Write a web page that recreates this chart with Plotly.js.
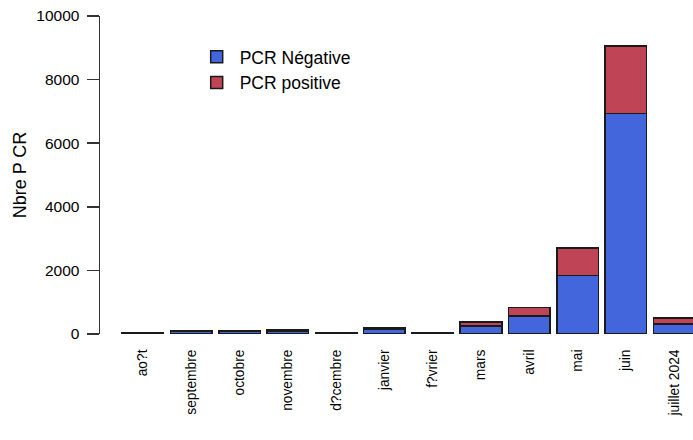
<!DOCTYPE html>
<html>
<head>
<meta charset="utf-8">
<script src="https://cdn.plot.ly/plotly-3.0.1.min.js"></script>
<style>html,body{margin:0;padding:0;background:#fff;}#chart{width:693px;height:440px;}</style>
</head>
<body>
<div id="chart"></div>
<script>
const categories = ['ao?t','septembre','octobre','novembre','d?cembre','janvier','f?vrier','mars','avril','mai','juin','juillet 2024'];
const pcrNegative = [20, 80, 80, 90, 20, 160, 20, 250, 570, 1840, 6930, 320];
const pcrPositive = [10, 30, 30, 40, 10, 50, 10, 120, 260, 870, 2130, 190];
const yTicks = [0, 2000, 4000, 6000, 8000, 10000];

const font = 'Liberation Sans, Arial, sans-serif';
const idx = categories.map((c, i) => i);

const traces = [
  {type:'bar', name:'PCR Négative', x: idx, y: pcrNegative,
   marker:{color:'#4466DD', line:{color:'#1a1a1a', width:1.5}}, width:0.86},
  {type:'bar', name:'PCR positive', x: idx, y: pcrPositive,
   marker:{color:'#BF4556', line:{color:'#1a1a1a', width:1.5}}, width:0.86}
];

const layout = {
  width:693, height:440,
  margin:{l:100, r:0, t:16, b:106},
  paper_bgcolor:'#fff', plot_bgcolor:'#fff',
  barmode:'stack',
  showlegend:true,
  legend:{x:0.158, y:0.928, xanchor:'left', yanchor:'top', traceorder:'normal',
          itemwidth:36, tracegroupgap:0,
          font:{family:font, size:17.5, color:'#000'}, bgcolor:'rgba(0,0,0,0)'},
  xaxis:{range:[-0.89, 11.39], tickmode:'array', tickvals: idx, ticktext: categories,
         tickangle:-90, showgrid:false, zeroline:false, showline:false,
         ticks:'outside', ticklen:9, tickcolor:'rgba(0,0,0,0)',
         tickfont:{family:font, size:13.8, color:'#000'}},
  yaxis:{range:[0,10000], tickmode:'array', tickvals:yTicks, ticktext: yTicks.map(String),
         showgrid:false, zeroline:false, showline:true, linecolor:'#333', linewidth:1.5,
         ticks:'outside', ticklen:12, tickwidth:1.5, tickcolor:'#333', ticklabelstandoff:4,
         tickfont:{family:font, size:15.5, color:'#000'},
         title:{text:'Nbre P CR', standoff:5, font:{family:font, size:18, color:'#000'}}}
};

Plotly.newPlot('chart', traces, layout, {displayModeBar:false, staticPlot:true});
</script>
</body>
</html>
